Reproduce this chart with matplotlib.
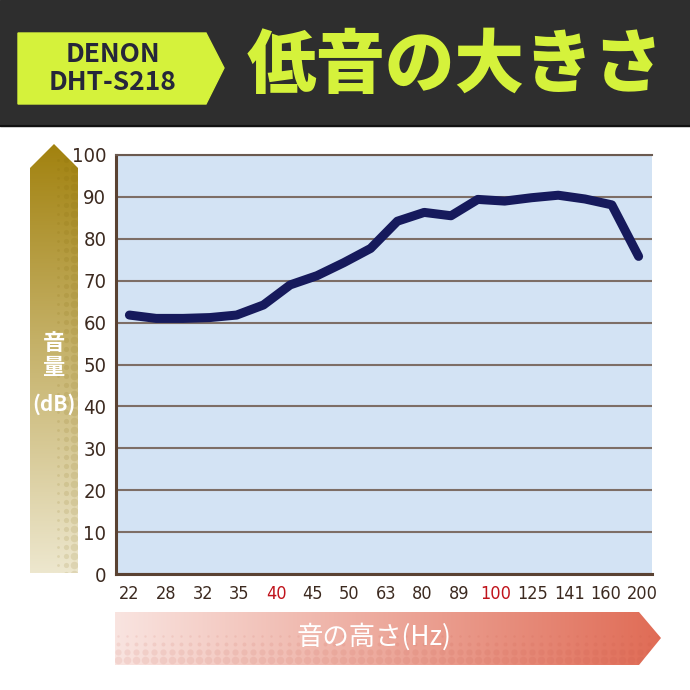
import os
import numpy as np
import matplotlib.pyplot as plt
from matplotlib import font_manager
from matplotlib.font_manager import FontProperties
from matplotlib.patches import Polygon, Rectangle

# data
freq_labels = ['22', '28', '32', '35', '40', '45', '50', '63', '80', '89',
               '100', '125', '141', '160', '200']
red_labels = ['40', '100']
volume_db = [61.8, 61.0, 61.0, 61.2, 61.8, 64.2, 69.0, 71.2, 74.3, 77.7,
             84.2, 86.3, 85.5, 89.4, 89.0, 89.8, 90.4, 89.5, 88.1, 75.8]
y_ticks = list(range(0, 101, 10))

JP = ['Noto Sans CJK JP', 'DejaVu Sans']

# condensed face for the numbers, picked by file name if it is installed
narrow_files = ['DejaVuSansCondensed.ttf', 'LiberationSansNarrow-Regular.ttf']
found = {os.path.basename(f.fname): f.fname for f in font_manager.fontManager.ttflist}
x_font = y_font = None
for nf in narrow_files:
    if nf in found:
        x_font = FontProperties(fname=found[nf], size=13)
        y_font = FontProperties(fname=found[nf], size=14.5)
        break
if x_font is None:
    x_font = FontProperties(family='Noto Sans CJK JP', size=12.5)
    y_font = FontProperties(family='Noto Sans CJK JP', size=14)

green = '#d5f23b'
brown = '#3c2a20'

fig = plt.figure(figsize=(6.9, 6.9), dpi=100)
fig.patch.set_facecolor('white')

# background layer in pixel coords (y downwards)
bg = fig.add_axes([0, 0, 1, 1])
bg.axis('off')


def hexrgb(h):
    h = h.lstrip('#')
    return [int(h[i:i + 2], 16) / 255 for i in (0, 2, 4)]


def grad_arrow(pts, c0, c1, vertical):
    poly = Polygon(pts, closed=True, facecolor='none', edgecolor='none')
    bg.add_patch(poly)
    xs = [p[0] for p in pts]
    ys = [p[1] for p in pts]
    t = np.linspace(0, 1, 256)[:, None]
    cols = np.array(c0)[None, :] * (1 - t) + np.array(c1)[None, :] * t
    img = cols[:, None, :] if vertical else cols[None, :, :]
    im = bg.imshow(img, extent=(min(xs), max(xs), max(ys), min(ys)),
                   aspect='auto', interpolation='bilinear')
    im.set_clip_path(poly)
    return poly


# header band
bg.add_patch(Rectangle((0, 0), 690, 126, color='#2e2e2e'))
bg.plot([0, 690], [126, 126], color='#111111', lw=1.5)
bg.add_patch(Polygon([[18, 33], [206, 33], [224, 68], [206, 104], [18, 104]],
                     closed=True, color=green))
bg.text(113, 54, 'DENON', fontsize=19, fontweight='bold', color='#26263a',
        ha='center', va='center', family=JP)
bg.text(113, 82, 'DHT-S218', fontsize=19, fontweight='bold', color='#26263a',
        ha='center', va='center', family=JP)
bg.text(455, 66, '低音の大きさ', fontsize=50, fontweight='heavy', color=green,
        ha='center', va='center', family=JP)

# y axis arrow with faint halftone dots
gold = grad_arrow([[30, 168], [54, 144], [78, 168], [78, 573], [30, 573]],
                  hexrgb('#a2820f'), hexrgb('#ede7ce'), True)
dy = np.arange(160, 575, 9)
for col, size in [(74, 30), (66, 14), (58, 4)]:
    d = bg.scatter(np.full(dy.size, col), dy, s=size, color='#7a6000',
                   alpha=0.12, lw=0, zorder=2)
    d.set_clip_path(gold)
bg.text(54, 343, '音', fontsize=16, color='white', ha='center', va='center',
        family=JP, fontweight='bold')
bg.text(54, 368, '量', fontsize=16, color='white', ha='center', va='center',
        family=JP, fontweight='bold')
bg.text(54, 404, '(dB)', fontsize=15, color='white', ha='center', va='center',
        family=JP, fontweight='bold')

# x axis arrow with faint halftone dots
pink = grad_arrow([[115, 612], [639, 612], [661, 638], [639, 665], [115, 665]],
                  hexrgb('#f9e4e0'), hexrgb('#e06c56'), False)
dx = np.arange(118, 660, 9)
for row, size in [(660, 30), (652, 20), (644, 8), (636, 3)]:
    d = bg.scatter(dx, np.full(dx.size, row), s=size, color='#c04a3a',
                   alpha=0.10, lw=0, zorder=2)
    d.set_clip_path(pink)
bg.text(374, 637, '音の高さ(Hz)', fontsize=19, color='white', ha='center',
        va='center', family=JP, zorder=3)

bg.set_xlim(0, 690)
bg.set_ylim(690, 0)

# main chart
ax = fig.add_axes([116 / 690, 116 / 690, 536 / 690, 419 / 690])
ax.set_facecolor('#d3e3f4')
x = np.arange(len(volume_db))
ax.plot(x, volume_db, color='#161a5c', lw=6.5, solid_capstyle='round',
        solid_joinstyle='round', zorder=3)
ax.set_xlim(-0.5, len(volume_db) - 0.5)
ax.set_ylim(0, 100)
ax.set_yticks(y_ticks)
ax.yaxis.grid(True, color='#7d6e66', lw=1.5)
ax.set_axisbelow(True)

tick_pos = np.linspace(0, 19.15, len(freq_labels))
ax.set_xticks(tick_pos)
ax.set_xticklabels(freq_labels)
for lab in ax.get_xticklabels():
    lab.set_color('#c0141c' if lab.get_text() in red_labels else brown)
    lab.set_fontproperties(x_font)
for lab in ax.get_yticklabels():
    lab.set_color(brown)
    lab.set_fontproperties(y_font)
ax.tick_params(length=0)
ax.tick_params(axis='y', pad=7)
ax.tick_params(axis='x', pad=8)

for s in ['left', 'bottom']:
    ax.spines[s].set_color('#5a4232')
    ax.spines[s].set_linewidth(2.2)
ax.spines['top'].set_color('#6b5a50')
ax.spines['top'].set_linewidth(1.5)
ax.spines['right'].set_visible(False)

fig.savefig('out.png', dpi=100)
